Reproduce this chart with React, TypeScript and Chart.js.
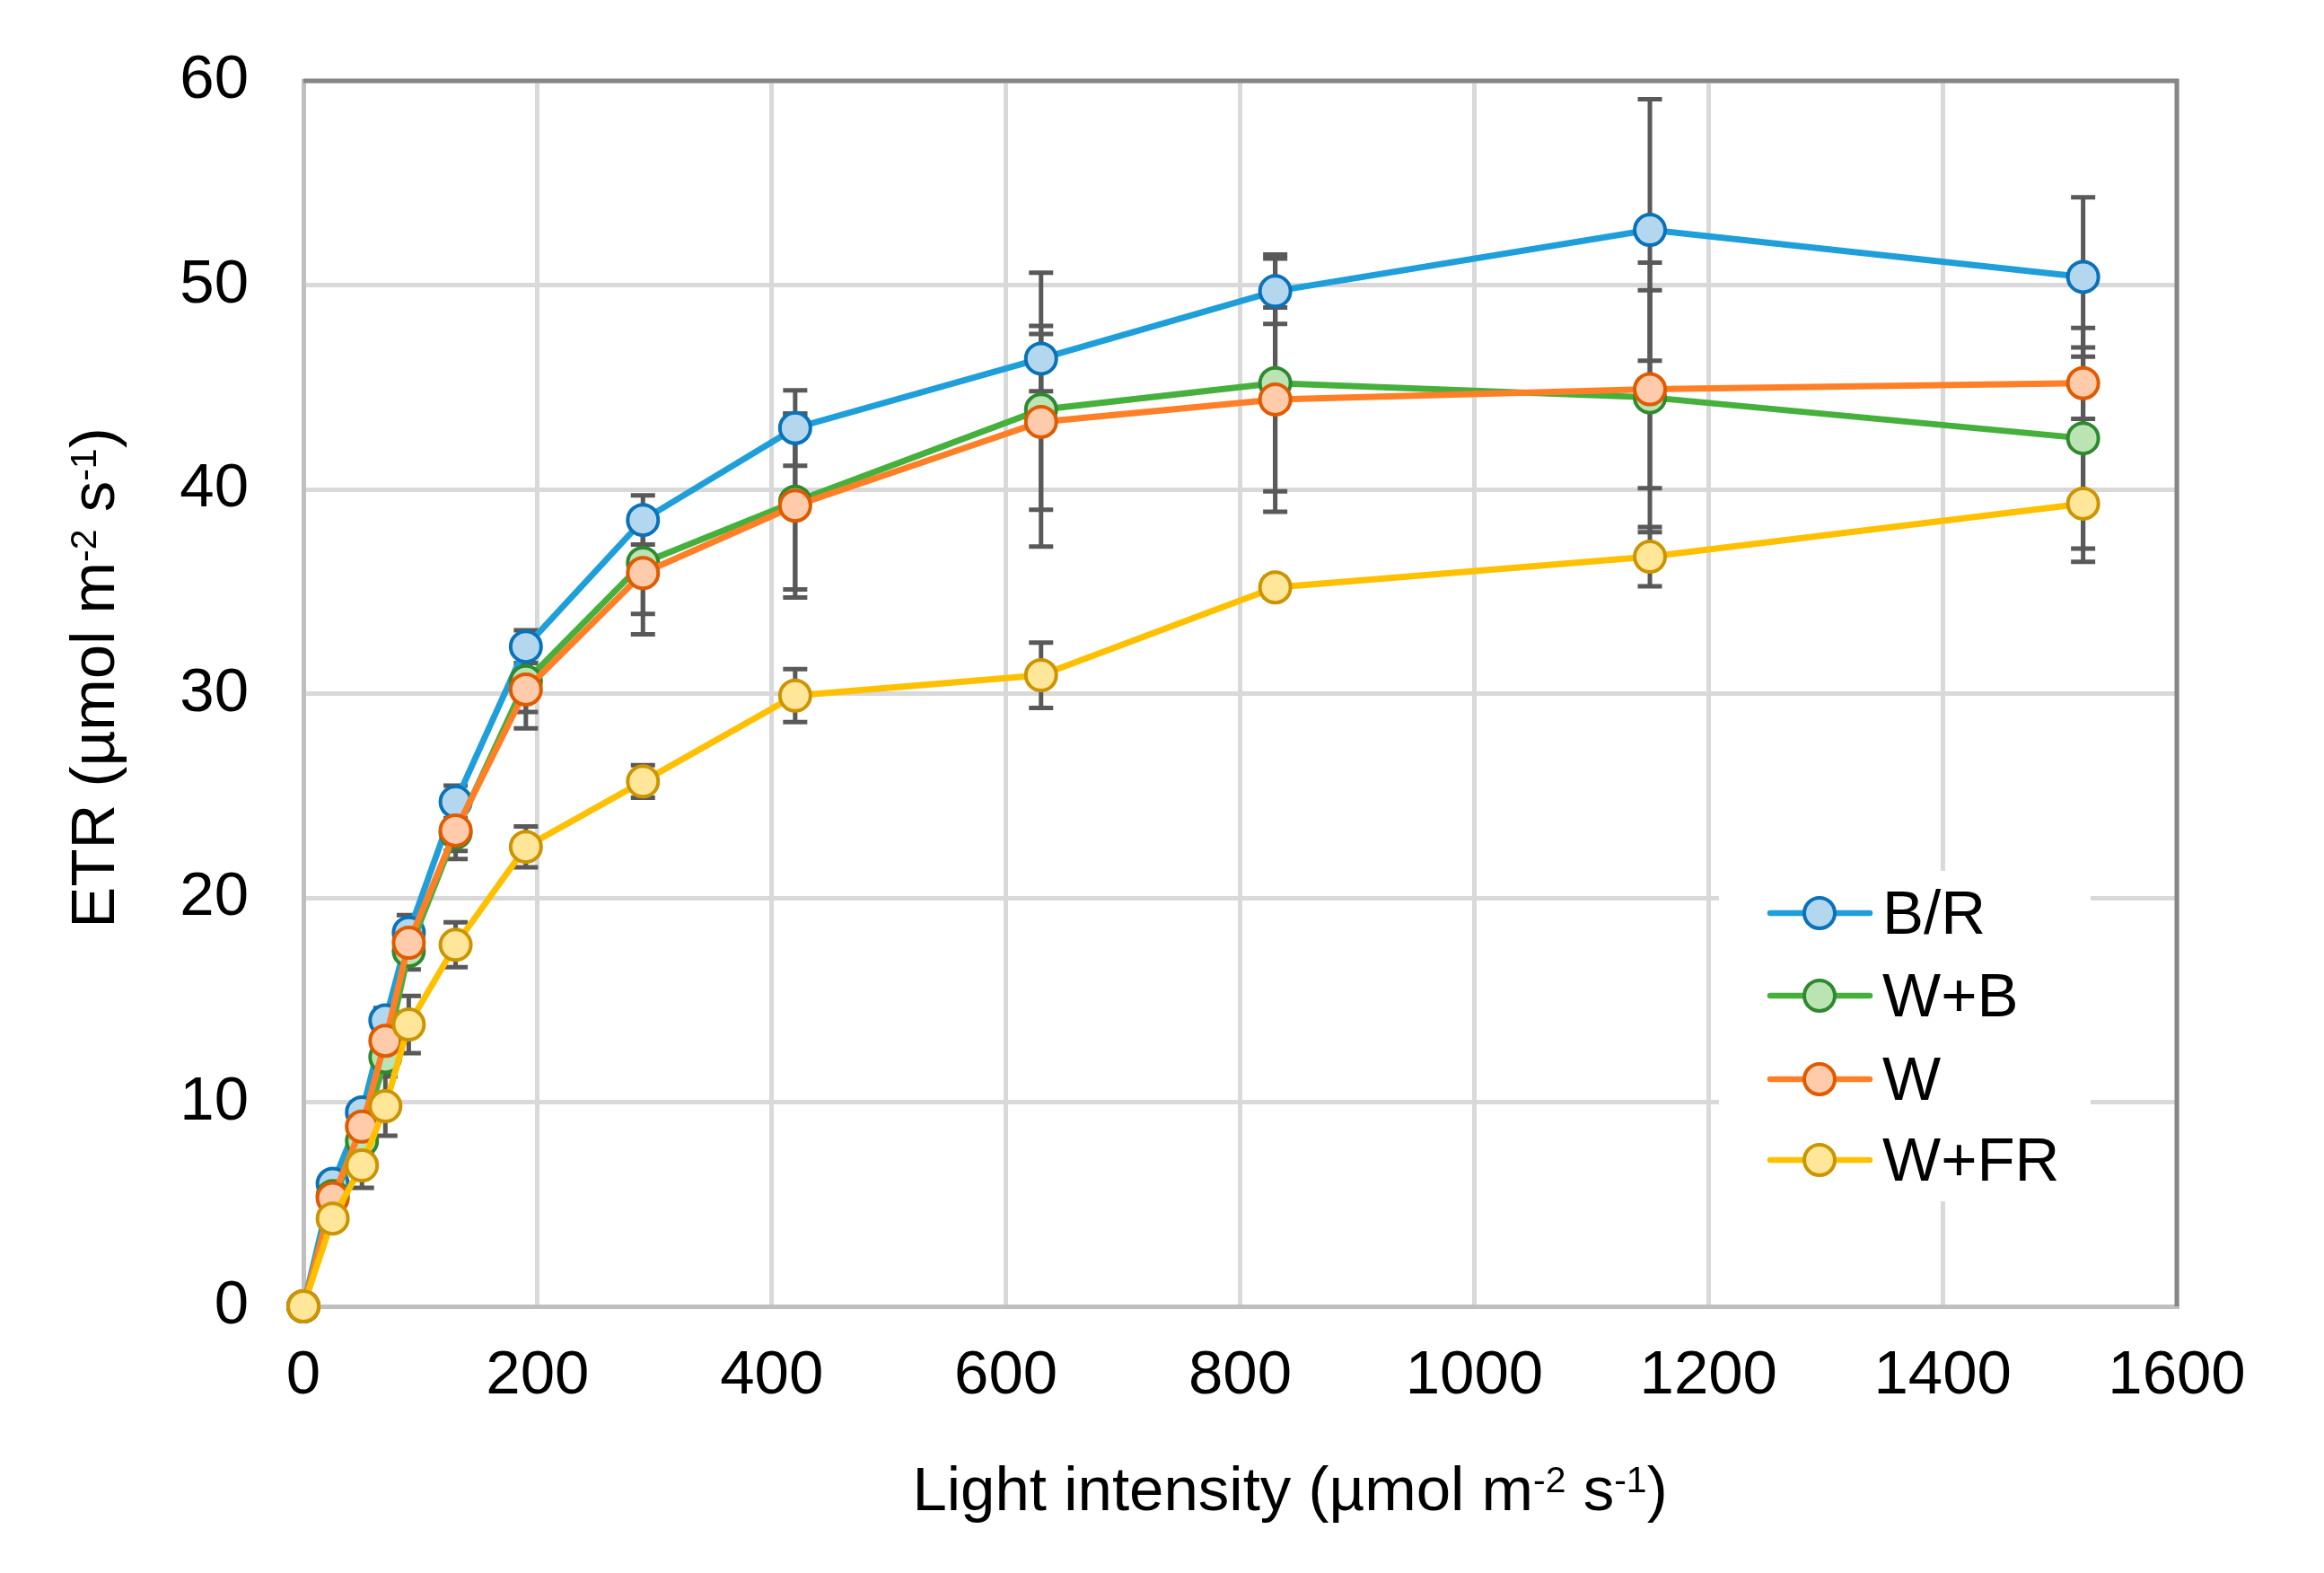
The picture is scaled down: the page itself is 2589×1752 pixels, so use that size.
import { useEffect, useRef } from "react";
import { Chart, registerables } from "chart.js";

Chart.register(...registerables);

// light intensity (µmol m-2 s-1) of each step of the light curve
const lightIntensity = [0, 25, 50, 70, 90, 130, 190, 290, 420, 630, 830, 1150, 1520];

// ETR means per treatment
const etrBR = [0, 6.0, 9.5, 14.0, 18.3, 24.7, 32.3, 38.5, 43.0, 46.4, 49.7, 52.7, 50.4];
const etrWB = [0, 5.4, 8.1, 12.2, 17.4, 23.2, 30.6, 36.4, 39.4, 43.9, 45.2, 44.5, 42.5];
const etrW = [0, 5.3, 8.8, 13.0, 17.8, 23.3, 30.2, 35.9, 39.2, 43.3, 44.4, 44.9, 45.2];
const etrWFR = [0, 4.3, 6.9, 9.8, 13.8, 17.7, 22.5, 25.7, 29.9, 30.9, 35.2, 36.7, 39.3];

// error bar half-lengths
const errBR = [0, 0.4, 0.5, 0.6, 0.85, 0.8, 0.8, 1.2, 1.85, 1.6, 1.6, 6.4, 3.9];
const errWB = [0, 0.4, 0.6, 0.9, 0.9, 1.3, 1.5, 2.5, 4.3, 6.7, 6.3, 6.6, 5.4];
const errW = [0, 0.4, 0.5, 0.8, 0.9, 1.0, 1.9, 3.0, 4.5, 4.3, 4.5, 4.85, 1.75];
const errWFR = [0, 0.3, 1.1, 1.45, 1.4, 1.1, 1.0, 0.8, 1.3, 1.6, 0.5, 1.45, 2.85];

const seriesNames = ["B/R", "W+B", "W", "W+FR"];
const seriesValues = [etrBR, etrWB, etrW, etrWFR];
const seriesErrors = [errBR, errWB, errW, errWFR];

const xTicks = [0, 200, 400, 600, 800, 1000, 1200, 1400, 1600];
const yTicks = [0, 10, 20, 30, 40, 50, 60];

// colours: line, marker fill, marker border
const lineColors = ["#1E9FDA", "#46B03C", "#FF7F27", "#FFC000"];
const fillColors = ["#B4D7F0", "#BCE3B4", "#FFCBAA", "#FFE699"];
const edgeColors = ["#0A72B8", "#2E8A2E", "#E05A00", "#CC9500"];

type Seg = { text: string; sup?: boolean };
const xTitle: Seg[] = [
  { text: "Light intensity (µmol m" },
  { text: "-2", sup: true },
  { text: " s" },
  { text: "-1", sup: true },
  { text: ")" },
];
const yTitle: Seg[] = [
  { text: "ETR (µmol m" },
  { text: "-2", sup: true },
  { text: " s" },
  { text: "-1", sup: true },
  { text: ")" },
];

const FONT = "'Liberation Sans', Arial, sans-serif";
const FS = 69;
const SUP = 41;

function drawRich(ctx: CanvasRenderingContext2D, segs: Seg[], cx: number, baseline: number) {
  let total = 0;
  const widths = segs.map((s) => {
    ctx.font = `${s.sup ? SUP : FS}px ${FONT}`;
    const w = ctx.measureText(s.text).width;
    total += w;
    return w;
  });
  let x = cx - total / 2;
  ctx.textAlign = "left";
  ctx.textBaseline = "alphabetic";
  segs.forEach((s, i) => {
    ctx.font = `${s.sup ? SUP : FS}px ${FONT}`;
    ctx.fillText(s.text, x, s.sup ? baseline - 20 : baseline);
    x += widths[i];
  });
}

const decorPlugin = {
  id: "excelDecor",
  beforeDatasetsDraw(chart: any) {
    const { ctx, chartArea, scales } = chart;
    const { x, y } = scales;
    ctx.save();
    // plot area border (top / right)
    ctx.strokeStyle = "#868686";
    ctx.lineWidth = 5;
    ctx.beginPath();
    ctx.moveTo(chartArea.left, chartArea.top);
    ctx.lineTo(chartArea.right, chartArea.top);
    ctx.lineTo(chartArea.right, chartArea.bottom);
    ctx.stroke();

    // error bars
    ctx.strokeStyle = "#595959";
    ctx.lineWidth = 5;
    seriesValues.forEach((vals, i) => {
      vals.forEach((v, j) => {
        const e = seriesErrors[i][j];
        if (!e) return;
        const px = x.getPixelForValue(lightIntensity[j]);
        const top = y.getPixelForValue(v + e);
        const bot = y.getPixelForValue(v - e);
        ctx.beginPath();
        ctx.moveTo(px, top);
        ctx.lineTo(px, bot);
        ctx.moveTo(px - 13.5, top);
        ctx.lineTo(px + 13.5, top);
        ctx.moveTo(px - 13.5, bot);
        ctx.lineTo(px + 13.5, bot);
        ctx.stroke();
      });
    });
    ctx.restore();
  },
  afterDraw(chart: any) {
    const { ctx, chartArea } = chart;
    ctx.save();
    // legend box
    const lx = chartArea.right - 510;
    const ly = chartArea.top + 880;
    ctx.fillStyle = "#ffffff";
    ctx.fillRect(lx, ly, 414, 368);
    const rows = [47, 139, 232, 322];
    seriesNames.forEach((name, i) => {
      const cy = ly + rows[i];
      ctx.strokeStyle = lineColors[i];
      ctx.lineWidth = 6.5;
      ctx.lineCap = "round";
      ctx.beginPath();
      ctx.moveTo(lx + 57, cy);
      ctx.lineTo(lx + 168, cy);
      ctx.stroke();
      ctx.beginPath();
      ctx.arc(lx + 112, cy, 17, 0, Math.PI * 2);
      ctx.fillStyle = fillColors[i];
      ctx.fill();
      ctx.lineWidth = 4;
      ctx.strokeStyle = edgeColors[i];
      ctx.stroke();
      ctx.fillStyle = "#000000";
      ctx.font = `${FS}px ${FONT}`;
      ctx.textAlign = "left";
      ctx.textBaseline = "alphabetic";
      ctx.fillText(name, lx + 182, cy + 23);
    });

    // axis titles
    ctx.fillStyle = "#000000";
    drawRich(ctx, xTitle, chartArea.left + 1099, chartArea.bottom + 227);
    ctx.translate(127, chartArea.top + 665);
    ctx.rotate(-Math.PI / 2);
    drawRich(ctx, yTitle, 0, 0);
    ctx.restore();
  },
};

export default function App() {
  const canvasRef = useRef<HTMLCanvasElement | null>(null);
  const chartRef = useRef<Chart | null>(null);

  useEffect(() => {
    if (!canvasRef.current) return;
    if (chartRef.current) chartRef.current.destroy();

    const datasets = seriesNames.map((name, i) => ({
      label: name,
      data: lightIntensity.map((lx, j) => ({ x: lx, y: seriesValues[i][j] })),
      borderColor: lineColors[i],
      borderWidth: 7,
      backgroundColor: fillColors[i],
      pointBackgroundColor: fillColors[i],
      pointBorderColor: edgeColors[i],
      pointBorderWidth: 4,
      pointRadius: 17,
      tension: 0,
      clip: false as any,
      // later series are drawn on top, like the original
      order: seriesNames.length - i,
    }));

    chartRef.current = new Chart(canvasRef.current, {
      type: "line",
      data: { datasets },
      options: {
        responsive: false,
        devicePixelRatio: 1,
        animation: false,
        layout: { padding: { left: 0, top: 90, right: 164, bottom: 0 } },
        plugins: {
          legend: { display: false },
          tooltip: { enabled: false },
        },
        scales: {
          x: {
            type: "linear",
            min: 0,
            max: 1600,
            afterBuildTicks: (scale: any) => {
              scale.ticks = xTicks.map((v) => ({ value: v }));
            },
            afterFit: (scale: any) => {
              scale.height = 297;
              scale.paddingLeft = 0;
              scale.paddingRight = 0;
            },
            ticks: {
              color: "#000000",
              font: { family: FONT, size: FS },
              padding: 37,
              maxRotation: 0,
              callback: (v: any) => String(v),
            },
            grid: { color: "#D9D9D9", lineWidth: 5, drawTicks: false },
            border: { color: "#BFBFBF", width: 5 },
          },
          y: {
            type: "linear",
            min: 0,
            max: 60,
            afterBuildTicks: (scale: any) => {
              scale.ticks = yTicks.map((v) => ({ value: v }));
            },
            afterFit: (scale: any) => {
              scale.width = 338;
              scale.paddingTop = 0;
              scale.paddingBottom = 0;
            },
            ticks: {
              color: "#000000",
              font: { family: FONT, size: FS },
              padding: 61,
              callback: (v: any) => String(v),
            },
            grid: { color: "#D9D9D9", lineWidth: 5, drawTicks: false },
            border: { color: "#BFBFBF", width: 5 },
          },
        },
      },
      plugins: [decorPlugin],
    });

    return () => {
      if (chartRef.current) {
        chartRef.current.destroy();
        chartRef.current = null;
      }
    };
  }, []);

  return (
    <div style={{ position: "absolute", left: 0, top: 0, width: 2589, height: 1752, background: "#ffffff" }}>
      <canvas ref={canvasRef} width={2589} height={1752} style={{ display: "block" }} />
    </div>
  );
}
